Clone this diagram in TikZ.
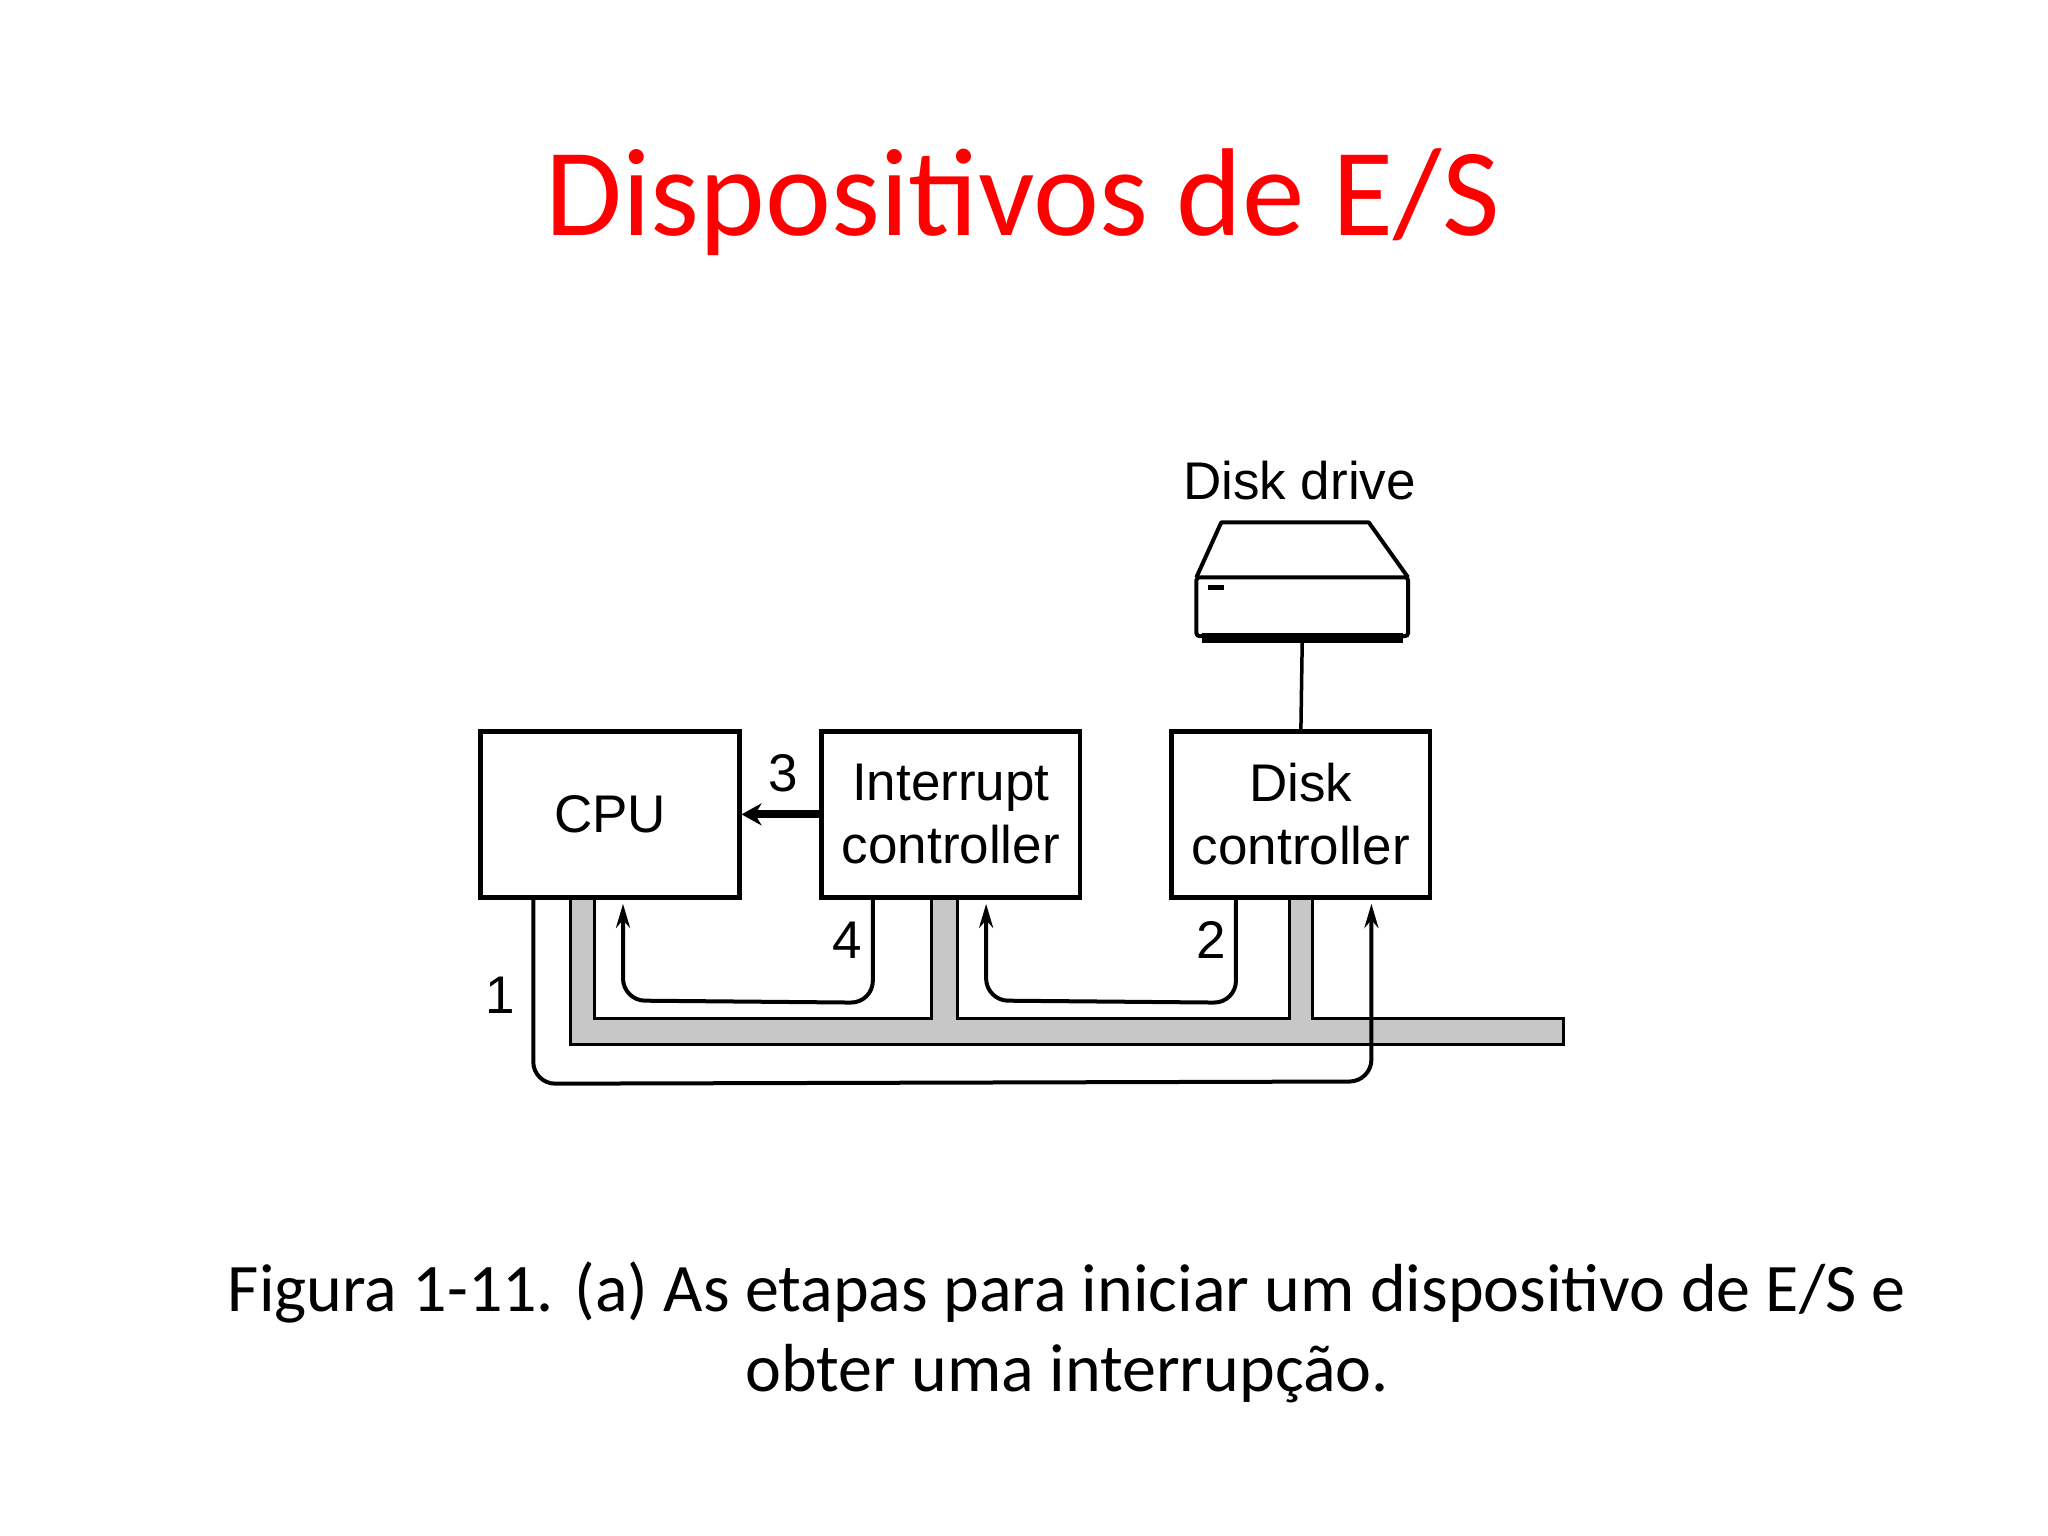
\documentclass[tikz,border=0pt]{standalone}
\usepackage{fontspec}
\usetikzlibrary{arrows.meta}
\setmainfont{Carlito}
\newfontfamily\arial{Liberation Sans}
\begin{document}
\begin{tikzpicture}[x=1.306pt,y=-1.306pt,
  box/.style={draw,line width=4.5pt,minimum width=198*1.306pt,minimum height=127*1.306pt,inner sep=0pt,align=center,font=\arial\fontsize{53}{63}\selectfont},
  lbl/.style={font=\arial\fontsize{53}{63}\selectfont,inner sep=0pt},
  sig/.style={line width=4pt,rounded corners=22pt,-{Stealth[length=24pt,width=14pt]}}]
\useasboundingbox (0,0) rectangle (1568,1176);
\node[text=red,font=\fontsize{125}{135}\selectfont] (title) at (783,155) {Dispositivos de E/S};
% bus
\filldraw[fill=black!22,draw=black,line width=3pt]
 (437,687)--(437,800)--(1197,800)--(1197,780)--(1005,780)--(1005,687)--(987,687)--(987,780)--(733,780)--(733,687)--(713,687)--(713,780)--(455,780)--(455,687)--cycle;
\node[box] (cpu) at (467,623.5) {CPU};
\node[box] (ic) at (728,623.5) {Interrupt\\controller};
\node[box] (dc) at (996,623.5) {Disk\\controller};
% drive
\draw[line width=4pt,line join=round] (916,442)--(935,400)--(1048,400)--(1078,442);
\draw[line width=4pt,rounded corners=3pt] (916,442) rectangle (1078,487);
\fill (920,485) rectangle (1074,492);
\fill (925,448) rectangle (937,452);
\coordinate (drv) at (997,492);
\draw[line width=3.5pt] (drv) -- (dc.north);
\node[lbl] (dd) at (995,368) {Disk drive};
% signals
\draw[line width=8pt,-{Stealth[length=20pt,width=22pt]}] (ic.west) -- (cpu.east);
\node[lbl] (n3) at (600,592) {3};
\draw[sig] (ic.south west) ++(41,0) -- ++(0,79) -- (477,766) -- (477,692);
\node[lbl] (n4) at (649,720) {4};
\draw[sig] (dc.south west) ++(51,0) -- ++(0,79) -- (755,766) -- (755,692);
\node[lbl] (n2) at (927,720) {2};
\draw[sig] (cpu.south west) ++(42,0) -- ++(0,141) -- (1050,828) -- (1050,692);
\node[lbl] (n1) at (383,762) {1};
\node[align=center,font=\fontsize{68}{80}\selectfont] (cap) at (817,1020) {Figura 1-11. (a) As etapas para iniciar um dispositivo de E/S e\\obter uma interrupção.};
\end{tikzpicture}
\end{document}
